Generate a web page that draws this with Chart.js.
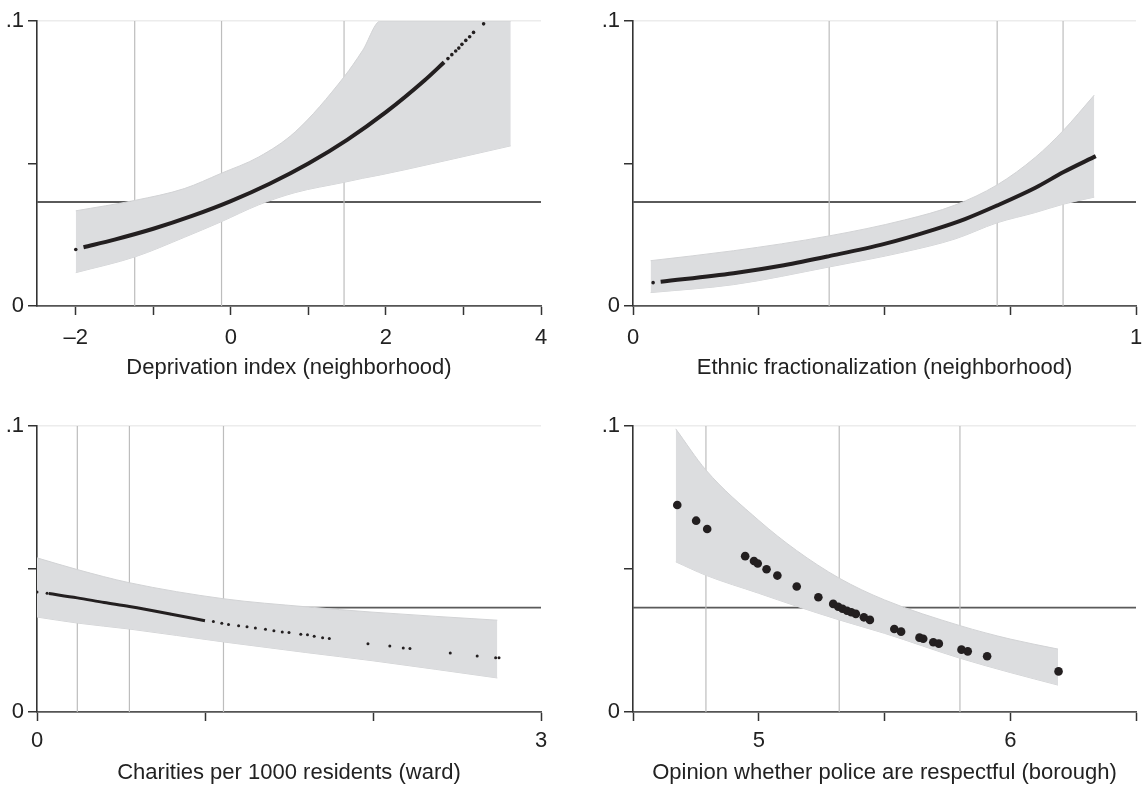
<!DOCTYPE html>
<html>
<head>
<meta charset="utf-8">
<script src="https://cdn.jsdelivr.net/npm/chart.js@4/dist/chart.umd.min.js"></script>
<style>
  body { margin: 0; background: #fff; }
  #wrap { position: relative; width: 1144px; height: 788px; }
  canvas { position: absolute; }
</style>
</head>
<body>
<div id="wrap">
  <canvas id="p1" width="572" height="400" style="left:0;top:0"></canvas>
  <canvas id="p2" width="572" height="400" style="left:572px;top:0"></canvas>
  <canvas id="p3" width="572" height="388" style="left:0;top:400px"></canvas>
  <canvas id="p4" width="572" height="388" style="left:572px;top:400px"></canvas>
</div>
<script>
// shared y axis
const yTicks = [0, 0.05, 0.1];
const yLabels = ['0', '', '.1'];
const refLevel = 0.0365;

// deprivation index
const depTicks = [-2, -1, 0, 1, 2, 3, 4];
const depLabels = ['\u20132', '', '0', '', '2', '', '4'];
const depQuant = [-1.24, -0.12, 1.46];
const depBandX = [-2.0, -1.23, -0.6, -0.13, 0.36, 0.83, 1.46, 1.7, 1.93, 2.26, 3.61];
const depBandHi = [0.0334, 0.0371, 0.0412, 0.0465, 0.0523, 0.0611, 0.0804, 0.0897, 0.1, 0.1, 0.1];
const depBandLo = [0.0117, 0.0173, 0.0241, 0.0295, 0.0355, 0.0398, 0.0434, 0.0448, 0.046, 0.0479, 0.0562];
const depLineX = [-1.9, -1.5, -1.0, -0.5, 0, 0.5, 1.0, 1.5, 2.0, 2.5, 2.75];
const depLineY = [0.0206, 0.0233, 0.0271, 0.0316, 0.0368, 0.0429, 0.05, 0.0583, 0.068, 0.0792, 0.0855];
const depDotX = [-2.0, 2.8, 2.85, 2.9, 2.94, 2.98, 3.03, 3.08, 3.13, 3.26];
const depDotY = [0.0198, 0.0868, 0.0882, 0.0895, 0.0905, 0.0918, 0.0932, 0.0945, 0.096, 0.099];

// ethnic fractionalization
const ethTicks = [0, 0.25, 0.5, 0.75, 1];
const ethLabels = ['0', '', '', '', '1'];
const ethQuant = [0.39, 0.724, 0.855];
const ethBandX = [0.035, 0.2, 0.39, 0.54, 0.64, 0.724, 0.8, 0.855, 0.917];
const ethBandHi = [0.0159, 0.0194, 0.0246, 0.0302, 0.0354, 0.0425, 0.0522, 0.0615, 0.074];
const ethBandLo = [0.0047, 0.0075, 0.0137, 0.019, 0.0235, 0.0292, 0.0328, 0.0357, 0.0382];
const ethLineX = [0.055, 0.2, 0.3, 0.39, 0.5, 0.6, 0.66, 0.723, 0.8, 0.856, 0.92];
const ethLineY = [0.0085, 0.0115, 0.0143, 0.0175, 0.0218, 0.0269, 0.0305, 0.0352, 0.0415, 0.047, 0.0526];
const ethDotX = [0.04];
const ethDotY = [0.0082];

// charities per 1000 residents
const chaTicks = [0, 1, 2, 3];
const chaLabels = ['0', '', '', '3'];
const chaQuant = [0.24, 0.55, 1.11];
const chaBandX = [0, 0.24, 0.55, 1.11, 1.6, 2.0, 2.74];
const chaBandHi = [0.0539, 0.0498, 0.0452, 0.0396, 0.0368, 0.0349, 0.0321];
const chaBandLo = [0.0332, 0.0311, 0.029, 0.0245, 0.0208, 0.0179, 0.0119];
const chaLineX = [0.07, 0.24, 0.4, 0.55, 0.8, 1.0];
const chaLineY = [0.0414, 0.0399, 0.0383, 0.0369, 0.0342, 0.0319];
const chaDotX = [0.0, 0.06, 1.05, 1.1, 1.14, 1.2, 1.25, 1.3, 1.36, 1.41, 1.46, 1.5, 1.57, 1.61, 1.65, 1.7, 1.74,
                 1.97, 2.10, 2.18, 2.22, 2.46, 2.62, 2.73, 2.75];
const chaDotY = [0.042, 0.0415, 0.0316, 0.031, 0.0306, 0.0302, 0.0298, 0.0294, 0.0289, 0.0284, 0.028, 0.0278, 0.0272, 0.027, 0.0265, 0.026, 0.0257,
                 0.0239, 0.0231, 0.0224, 0.0222, 0.0206, 0.0196, 0.019, 0.019];

// opinion on police (borough)
const polTicks = [4.5, 5, 5.5, 6, 6.5];
const polLabels = ['', '5', '', '6', ''];
const polQuant = [4.79, 5.32, 5.80];
const polBandX = [4.67, 4.79, 5.0, 5.15, 5.32, 5.5, 5.8, 6.0, 6.19];
const polBandHi = [0.099, 0.0846, 0.067, 0.0565, 0.0468, 0.0392, 0.0302, 0.0255, 0.022];
const polBandLo = [0.0525, 0.0478, 0.0415, 0.037, 0.0322, 0.0275, 0.0188, 0.0138, 0.0094];
const polDotX = [4.676, 4.751, 4.795, 4.946, 4.981, 4.996, 5.031, 5.074, 5.151, 5.237, 5.296, 5.316, 5.333, 5.351,
                 5.368, 5.386, 5.418, 5.442, 5.539, 5.566, 5.639, 5.654, 5.694, 5.716, 5.806, 5.831, 5.908, 6.192];
const polDotY = [0.0724, 0.0669, 0.064, 0.0545, 0.0528, 0.0519, 0.0499, 0.0477, 0.0439, 0.0401, 0.0378, 0.0368, 0.0361, 0.0354,
                 0.0349, 0.0343, 0.0331, 0.0322, 0.029, 0.0281, 0.026, 0.0256, 0.0244, 0.0239, 0.0218, 0.0212, 0.0195, 0.0142];

const FONT = "'Liberation Sans Narrow', 'Liberation Sans', Arial, sans-serif";
const FSIZE = 22;
const INK = '#231f20';
const pts = (xs, ys) => xs.map((x, i) => ({x: x, y: ys[i]}));

function makePanel(id, p) {
  const ds = [];
  // quantile lines and reference line go underneath everything
  p.quant.forEach(q => ds.push({
    data: [{x: q, y: 0}, {x: q, y: 0.1}], borderColor: '#bdbdbd', borderWidth: 1.2,
    pointRadius: 0, order: 5
  }));
  ds.push({
    data: [{x: p.min, y: refLevel}, {x: p.max, y: refLevel}], borderColor: '#5a5a5a', borderWidth: 1.8,
    pointRadius: 0, order: 5
  });
  ds.push({
    data: pts(p.bandX, p.bandHi), borderColor: '#d2d3d5', borderWidth: 1, backgroundColor: '#dcdddf',
    fill: '+1', pointRadius: 0, cubicInterpolationMode: 'monotone', order: 3
  });
  ds.push({
    data: pts(p.bandX, p.bandLo), borderColor: '#d2d3d5', borderWidth: 1,
    fill: false, pointRadius: 0, cubicInterpolationMode: 'monotone', order: 3
  });
  if (p.lineX) ds.push({
    data: pts(p.lineX, p.lineY), borderColor: INK, borderWidth: p.lineW,
    pointRadius: 0, cubicInterpolationMode: 'monotone', order: 1
  });
  ds.push({
    data: pts(p.dotX, p.dotY), showLine: false, pointRadius: p.dotR, pointBackgroundColor: INK,
    pointBorderWidth: 0, order: 0
  });

  new Chart(document.getElementById(id), {
    type: 'line',
    data: {datasets: ds},
    options: {
      responsive: false,
      animation: false,
      events: [],
      layout: {padding: {top: p.padTop, right: p.padRight, left: 0, bottom: 0}},
      plugins: {legend: {display: false}, tooltip: {enabled: false}},
      scales: {
        x: {
          type: 'linear', min: p.min, max: p.max,
          afterBuildTicks: s => { s.ticks = p.ticks.map(v => ({value: v})); },
          afterFit: s => { s.height = p.xH; s.paddingLeft = 0; s.paddingRight = 0; },
          border: {color: '#555', width: 1.8},
          grid: {drawOnChartArea: false, tickLength: 9, tickColor: '#333', tickWidth: 1.5},
          ticks: {
            padding: p.tickPad, maxRotation: 0, autoSkip: false, color: '#222',
            font: {family: FONT, size: FSIZE},
            callback: v => p.labels[p.ticks.indexOf(v)]
          },
          title: {display: true, text: p.title, color: '#222', font: {family: FONT, size: FSIZE},
                  padding: {top: 0, bottom: p.titlePad}}
        },
        y: {
          min: 0, max: 0.1,
          afterBuildTicks: s => { s.ticks = yTicks.map(v => ({value: v})); },
          afterFit: s => { s.width = p.yW; },
          border: {color: '#333', width: 1.6},
          grid: {
            tickLength: 9, tickWidth: 1.5,
            color: c => (c.tick && c.tick.value === 0.1) ? '#ececec' : 'rgba(0,0,0,0)',
            tickColor: '#333', lineWidth: 1.5
          },
          ticks: {
            padding: 4, color: '#222', font: {family: FONT, size: FSIZE},
            callback: v => yLabels[yTicks.indexOf(v)]
          }
        }
      }
    }
  });
}

const topRow = {padTop: 21, xH: 94, tickPad: 10, titlePad: 19};
const botRow = {padTop: 26, xH: 76, tickPad: 7, titlePad: 2};

makePanel('p1', Object.assign({}, topRow, {
  yW: 37, padRight: 31, min: -2.5, max: 4, ticks: depTicks, labels: depLabels, quant: depQuant,
  bandX: depBandX, bandHi: depBandHi, bandLo: depBandLo, lineX: depLineX, lineY: depLineY, lineW: 4,
  dotX: depDotX, dotY: depDotY, dotR: 1.8, title: 'Deprivation index (neighborhood)'
}));
makePanel('p2', Object.assign({}, topRow, {
  yW: 61, padRight: 8, min: 0, max: 1, ticks: ethTicks, labels: ethLabels, quant: ethQuant,
  bandX: ethBandX, bandHi: ethBandHi, bandLo: ethBandLo, lineX: ethLineX, lineY: ethLineY, lineW: 4,
  dotX: ethDotX, dotY: ethDotY, dotR: 1.8, title: 'Ethnic fractionalization (neighborhood)'
}));
makePanel('p3', Object.assign({}, botRow, {
  yW: 37, padRight: 31, min: 0, max: 3, ticks: chaTicks, labels: chaLabels, quant: chaQuant,
  bandX: chaBandX, bandHi: chaBandHi, bandLo: chaBandLo, lineX: chaLineX, lineY: chaLineY, lineW: 3,
  dotX: chaDotX, dotY: chaDotY, dotR: 1.5, title: 'Charities per 1000 residents (ward)'
}));
makePanel('p4', Object.assign({}, botRow, {
  yW: 61, padRight: 8, min: 4.5, max: 6.5, ticks: polTicks, labels: polLabels, quant: polQuant,
  bandX: polBandX, bandHi: polBandHi, bandLo: polBandLo, lineX: null,
  dotX: polDotX, dotY: polDotY, dotR: 4.3, title: 'Opinion whether police are respectful (borough)'
}));
</script>
</body>
</html>
